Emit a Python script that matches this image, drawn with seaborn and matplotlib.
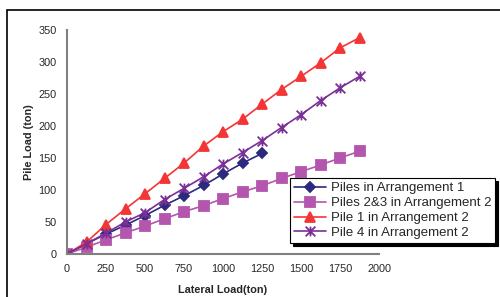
import numpy as np
import pandas as pd
import matplotlib
matplotlib.use("Agg")
import matplotlib.pyplot as plt
from matplotlib.path import Path
from matplotlib.patches import Rectangle
import seaborn as sns

# lateral load steps (ton)
load_arr1 = [0, 125, 250, 375, 500, 625, 750, 875, 1000, 1125, 1250]
load_arr2 = [0, 125, 250, 375, 500, 625, 750, 875, 1000, 1125, 1250,
             1375, 1500, 1625, 1750, 1875]

# pile loads (ton)
piles_arr1 = [0, 16, 31, 45, 60, 76, 91, 107, 125, 142, 157]
piles23_arr2 = [0, 10.5, 22, 33, 43.5, 55, 66, 75.5, 86.5, 97, 106.5,
                118, 128.5, 139, 150, 160.5]
pile1_arr2 = [0, 18.5, 46, 70.5, 94, 118, 142, 168.5, 191, 210.5, 234,
              257, 277.5, 298.5, 322, 338]
pile4_arr2 = [0, 16, 32.5, 50, 64.5, 85, 102.5, 120.5, 140.5, 158.5, 177,
              197.5, 217.5, 239.5, 259.5, 277.5]

labels = ["Piles in Arrangement 1", "Piles 2&3 in Arrangement 2",
          "Pile 1 in Arrangement 2", "Pile 4 in Arrangement 2"]

sns.set_style("white")
plt.rcParams['font.family'] = ['Liberation Sans', 'DejaVu Sans']

# Excel-like star marker: X with a vertical bar
star = Path([(0, -1), (0, 1), (-1, -1), (1, 1), (-1, 1), (1, -1)],
            [Path.MOVETO, Path.LINETO, Path.MOVETO, Path.LINETO,
             Path.MOVETO, Path.LINETO])

fig = plt.figure(figsize=(5, 2.97), dpi=100)
ax = fig.add_axes([0.134, 0.145, 0.624, 0.754])

series = [
    (load_arr1, piles_arr1, labels[0], '#2B2A7E', 'D', 5.5),
    (load_arr2, piles23_arr2, labels[1], '#B455AE', 's', 6.5),
    (load_arr2, pile1_arr2, labels[2], '#F43535', '^', 7.5),
    (load_arr2, pile4_arr2, labels[3], '#7A2F96', star, 7),
]
for x, y, lab, col, mk, ms in series:
    sns.lineplot(x=x, y=y, ax=ax, color=col, marker=mk, markersize=ms,
                 markeredgecolor=col, markerfacecolor=col,
                 markeredgewidth=1.3, linewidth=1.2, label=lab)

ax.set_xlim(0, 2000)
ax.set_ylim(0, 350)
ax.set_xticks(np.arange(0, 2001, 250))
ax.set_yticks(np.arange(0, 351, 50))
ax.margins(0)

for s in ['top', 'right']:
    ax.spines[s].set_visible(False)
for s in ['left', 'bottom']:
    ax.spines[s].set_color('#808080')
    ax.spines[s].set_linewidth(1.5)
ax.tick_params(axis='both', direction='out', length=3.5, width=1,
               color='#808080', labelsize=7.8, pad=4)

ax.set_xlabel('Lateral Load(ton)', fontsize=7.8, fontweight='bold', labelpad=8)
ax.set_ylabel('Pile Load (ton)', fontsize=7.8, fontweight='bold', labelpad=3)

leg = ax.legend(loc='upper left', bbox_to_anchor=(0.58, 0.4),
                bbox_transform=fig.transFigure, fontsize=9.5,
                frameon=True, fancybox=False, edgecolor='black',
                framealpha=1, borderpad=0.3, labelspacing=0.2,
                handlelength=2.4, handletextpad=0.4, borderaxespad=0,
                shadow={'color': 'black', 'alpha': 1})
leg.get_frame().set_linewidth(0.8)

# outer chart-area border
fig.patches.append(Rectangle((0.014, -0.2), 1.2, 1.166, transform=fig.transFigure,
                             fill=False, edgecolor='black', linewidth=1.2))

fig.savefig('out.png', dpi=100)
